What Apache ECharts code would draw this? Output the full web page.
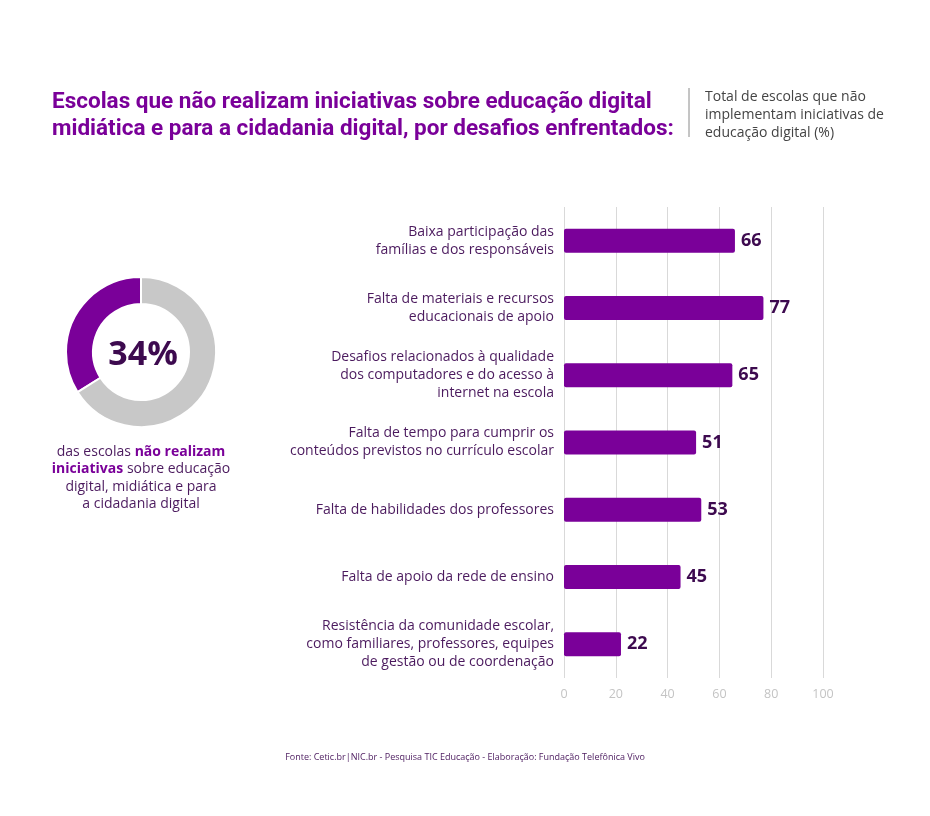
<!DOCTYPE html>
<html><head><meta charset="utf-8">
<script src="https://cdn.jsdelivr.net/npm/echarts@6/dist/echarts.min.js"></script>
<style>html,body{margin:0;padding:0;background:#fff}#c{width:930px;height:816px}</style>
</head><body><div id="c"></div>
<script>
const categories = [
  "Baixa participação das\nfamílias e dos responsáveis",
  "Falta de materiais e recursos\neducacionais de apoio",
  "Desafios relacionados à qualidade\ndos computadores e do acesso à\ninternet na escola",
  "Falta de tempo para cumprir os\nconteúdos previstos no currículo escolar",
  "Falta de habilidades dos professores",
  "Falta de apoio da rede de ensino",
  "Resistência da comunidade escolar,\ncomo familiares, professores, equipes\nde gestão ou de coordenação"
];
const values = [66, 77, 65, 51, 53, 45, 22];
const donutValues = [34, 66];
const donutNames = ["Não realizam", "Realizam"];
const axisTicks = [0, 20, 40, 60, 80, 100];

const PURPLE = '#7a0099';
const DARK = '#3d0a4f';
const TEXT = '#4b1a5e';
const FONT = '"Open Sans", Lato, sans-serif';

const chart = echarts.init(document.getElementById('c'));
chart.setOption({
  backgroundColor: '#fff',
  animation: false,
  textStyle: { fontFamily: FONT },
  grid: { left: 564, right: 107, top: 207, bottom: 138, containLabel: false },
  xAxis: {
    type: 'value', min: axisTicks[0], max: axisTicks[axisTicks.length - 1], interval: 20,
    axisLine: { show: false }, axisTick: { show: false },
    splitLine: { show: true, lineStyle: { color: '#d9d9d9', width: 1 } },
    axisLabel: { color: '#c4c4c4', fontSize: 12.5, margin: 10, fontFamily: FONT }
  },
  yAxis: {
    type: 'category', inverse: true, data: categories,
    axisLine: { show: false }, axisTick: { show: false },
    axisLabel: { color: TEXT, fontSize: 14, lineHeight: 18, margin: 10, align: 'right', fontFamily: FONT }
  },
  series: [
    {
      type: 'bar', data: values, barWidth: 24,
      itemStyle: { color: PURPLE, borderRadius: 2 },
      label: { show: true, position: 'right', distance: 6, color: DARK, fontSize: 18, fontWeight: 'bold', fontFamily: FONT }
    },
    {
      type: 'pie', center: [141, 352], radius: [48, 75],
      startAngle: 90, clockwise: false, silent: true,
      label: { show: false }, labelLine: { show: false },
      itemStyle: { borderColor: '#fff', borderWidth: 2 },
      data: donutValues.map((v, i) => ({ value: v, name: donutNames[i], itemStyle: { color: i === 0 ? PURPLE : '#c8c8c8' } }))
    }
  ],
  graphic: [
    { type: 'text', left: 52, top: 89, style: { text: 'Escolas que não realizam iniciativas sobre educação digital\nmidiática e para a cidadania digital, por desafios enfrentados:', fill: PURPLE, font: 'bold 22.5px Roboto, sans-serif', lineHeight: 27 } },
    { type: 'line', shape: { x1: 689, y1: 88, x2: 689, y2: 137 }, style: { stroke: '#8a8a8a', lineWidth: 1 } },
    { type: 'text', left: 705, top: 88, style: { text: 'Total de escolas que não\nimplementam iniciativas de\neducação digital (%)', fill: '#444', font: '14px ' + FONT, lineHeight: 18 } },
    { type: 'text', x: 143, y: 355, style: { text: '34%', fill: DARK, font: 'bold 34px ' + FONT, align: 'center', verticalAlign: 'middle' } },
    { type: 'text', x: 141, y: 443, style: {
      text: 'das escolas {b|não realizam}\n{b|iniciativas} sobre educação\ndigital, midiática e para\na cidadania digital',
      align: 'center', fill: TEXT, font: '14px ' + FONT, lineHeight: 17.5,
      rich: { b: { fill: PURPLE, fontWeight: 'bold', fontSize: 14, fontFamily: FONT } }
    } },
    { type: 'text', x: 465, y: 757, style: { text: 'Fonte: Cetic.br|NIC.br - Pesquisa TIC Educação - Elaboração: Fundação Telefônica Vivo', fill: TEXT, font: '9px ' + FONT, align: 'center', verticalAlign: 'middle' } }
  ]
});
</script></body></html>
